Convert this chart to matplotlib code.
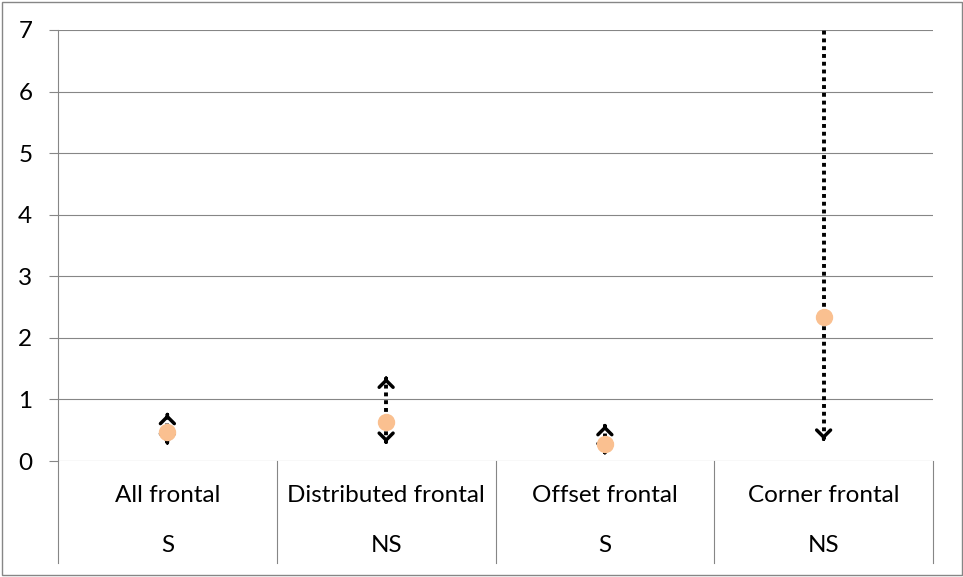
import matplotlib.pyplot as plt
import matplotlib.transforms as mtransforms
from matplotlib.patches import Rectangle

# data
groups = ['All frontal', 'Distributed frontal', 'Offset frontal', 'Corner frontal']
signif = ['S', 'NS', 'S', 'NS']
estimate = [0.47, 0.63, 0.27, 2.34]
lower = [0.29, 0.30, 0.13, 0.35]
upper = [0.76, 1.35, 0.58, 9.0]

grey = '#868686'
plt.rcParams['font.family'] = ['Lato', 'DejaVu Sans']

fig = plt.figure(figsize=(9.63, 5.77), dpi=100)
ax = fig.add_axes([58 / 963, 1 - 461 / 577, 875 / 963, 431 / 577])

ax.set_xlim(0, len(groups))
ax.set_ylim(0, 7)
ax.set_yticks(range(8))
ax.set_xticks([])
ax.tick_params(axis='y', length=6.5, width=0.8, color=grey, labelsize=17.5, pad=12)
for s in ['top', 'right', 'bottom']:
    ax.spines[s].set_visible(False)
ax.spines['left'].set_color(grey)
ax.spines['left'].set_linewidth(0.8)

# horizontal gridlines (0 line doubles as the category axis)
for yv in range(8):
    ax.axhline(yv, color=grey, lw=0.8, zorder=1)

x = [i + 0.5 for i in range(len(groups))]
ymin, ymax = ax.get_ylim()
for xi, lo, hi in zip(x, lower, upper):
    ax.plot([xi, xi], [lo, hi], color='black', lw=2.8,
            linestyle=(0, (1, 1)), dash_capstyle='butt', zorder=2)
    for tip, d in [(hi, -0.01), (lo, 0.01)]:
        if ymin <= tip <= ymax:
            ax.annotate('', xy=(xi, tip), xytext=(xi, tip + d),
                        arrowprops=dict(arrowstyle='->, head_length=0.5, head_width=0.5',
                                        color='black', lw=2.5, shrinkA=0, shrinkB=0),
                        zorder=2)

ax.plot(x, estimate, 'o', color='#fac090', markersize=11.5, zorder=3,
        linestyle='none')

# two-row category axis
trans = mtransforms.blended_transform_factory(ax.transData, ax.transAxes)
for i in range(len(groups) + 1):
    ax.plot([i, i], [0, -0.2367], transform=trans, color=grey, lw=0.8,
            clip_on=False)
for xi, g, s in zip(x, groups, signif):
    ax.text(xi, -0.079, g, transform=trans, ha='center', va='center', fontsize=17.5)
    ax.text(xi, -0.197, s, transform=trans, ha='center', va='center', fontsize=17.5)

# outer chart border
fig.patches.append(Rectangle((2 / 963, 2 / 577), 960 / 963, 573 / 577,
                             transform=fig.transFigure, fill=False,
                             edgecolor=grey, lw=1))

fig.savefig('out.png', dpi=100)
